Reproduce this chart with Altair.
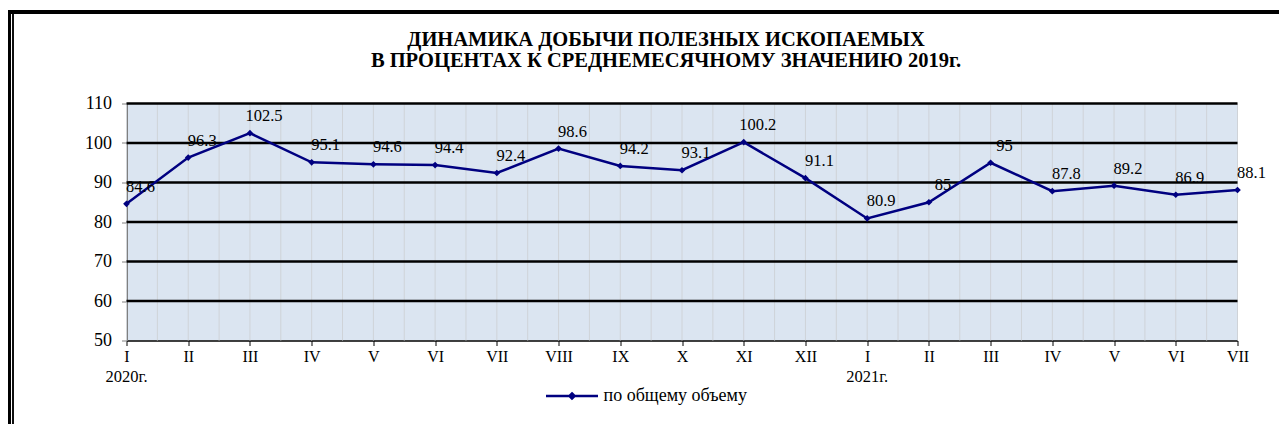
import json
import altair as alt
import pandas as pd

# ---- data ----
months = ["I", "II", "III", "IV", "V", "VI", "VII", "VIII", "IX", "X", "XI", "XII",
          "I", "II", "III", "IV", "V", "VI", "VII"]
values = [84.6, 96.3, 102.5, 95.1, 94.6, 94.4, 92.4, 98.6, 94.2, 93.1, 100.2, 91.1,
          80.9, 85, 95, 87.8, 89.2, 86.9, 88.1]
year_labels = ["2020г.", "2021г."]
year_index = [0, 12]
series_name = "по общему объему"
title_lines = ["ДИНАМИКА ДОБЫЧИ ПОЛЕЗНЫХ ИСКОПАЕМЫХ",
               "В ПРОЦЕНТАХ К СРЕДНЕМЕСЯЧНОМУ ЗНАЧЕНИЮ 2019г."]
y_ticks = [50, 60, 70, 80, 90, 100, 110]

FONT = "Liberation Serif"
NAVY = "#000080"
W, H = 1111, 237

idx = list(range(len(months)))
df = pd.DataFrame({"i": idx, "month": months, "value": values, "series": series_name,
                   "label": [f"{v:g}" for v in values]})
df_year = pd.DataFrame({"i": year_index, "year": year_labels})
df_v = pd.DataFrame({"h": [k * 0.5 for k in range(2 * (len(months) - 1) + 1)]})
df_h = pd.DataFrame({"y": y_ticks[1:]})
df_title = pd.DataFrame({"line": [0, 1], "text": title_lines})

xscale = alt.Scale(domain=[0, len(months) - 1], nice=False, zero=False)
yscale = alt.Scale(domain=[50, 110], nice=False, zero=False)
label_expr = json.dumps(months) + "[datum.value]"

x_axis = alt.Axis(values=idx, labelExpr=label_expr, title=None, grid=False,
                  domainColor="black", domainWidth=1.5, tickColor="black", tickSize=5,
                  labelFont=FONT, labelFontSize=16, labelColor="black", labelPadding=3,
                  labelFlush=False, labelOverlap=False)
y_axis = alt.Axis(values=y_ticks, title=None, grid=False, domainColor="#808080",
                  domainWidth=2, tickColor="#808080", tickSize=5, labelFont=FONT,
                  labelFontSize=18, labelColor="black", labelPadding=10,
                  labelOverlap=False, labelFlush=False)

base = alt.Chart(df)
X = alt.X("i:Q", scale=xscale, axis=x_axis)
Y = alt.Y("value:Q", scale=yscale, axis=y_axis)

vgrid = alt.Chart(df_v).mark_rule(color="#cfd3d8", strokeWidth=1).encode(
    x=alt.X("h:Q", scale=xscale, axis=x_axis))
hgrid = alt.Chart(df_h).mark_rule(color="black", strokeWidth=2.5).encode(
    y=alt.Y("y:Q", scale=yscale, axis=y_axis))

line = base.mark_line(strokeWidth=2.5).encode(
    x=X, y=Y,
    color=alt.Color("series:N", scale=alt.Scale(range=[NAVY]),
                    legend=alt.Legend(title=None, orient="none", legendX=418, legendY=265,
                                      symbolType="M-1,0H1M0,-0.1L0.1,0L0,0.1L-0.1,0Z",
                                      symbolSize=2704, symbolStrokeWidth=2.5,
                                      symbolFillColor=NAVY, symbolStrokeColor=NAVY,
                                      labelFont=FONT, labelFontSize=18, labelColor="black",
                                      padding=0, labelOffset=4)))
pts = base.mark_point(shape="diamond", filled=True, size=45, color=NAVY, opacity=1).encode(
    x=X, y=Y)
labels = base.mark_text(font=FONT, fontSize=16.5, dx=14, dy=-17, color="black",
                        baseline="middle").encode(x=X, y=Y, text="label:N")
years = alt.Chart(df_year).mark_text(font=FONT, fontSize=16.5, color="black",
                                     baseline="middle").encode(
    x=alt.X("i:Q", scale=xscale, axis=x_axis), y=alt.value(H + 36), text="year:N")

title1 = alt.Chart(df_title).transform_filter("datum.line == 0").mark_text(
    font=FONT, fontSize=20.5, fontWeight="bold", color="black", baseline="middle").encode(
    x=alt.value(539.5), y=alt.value(-63.5), text="text:N")
title2 = alt.Chart(df_title).transform_filter("datum.line == 1").mark_text(
    font=FONT, fontSize=20.5, fontWeight="bold", color="black", baseline="middle").encode(
    x=alt.value(539.5), y=alt.value(-43), text="text:N")

# frame of the chart (double line on the left, thick line on top)
frame_left = alt.Chart(df_year).mark_rule(color="black", strokeWidth=3).encode(
    x=alt.value(-117), y=alt.value(-93), y2=alt.value(H + 120))
frame_inner = alt.Chart(df_year).mark_rule(color="black", strokeWidth=1.5).encode(
    x=alt.value(-113.5), y=alt.value(-89.5), y2=alt.value(H + 120))
frame_top = alt.Chart(df_year).mark_rule(color="black", strokeWidth=4).encode(
    x=alt.value(-118.5), x2=alt.value(W + 200), y=alt.value(-91.5))

chart = alt.layer(vgrid, hgrid, line, pts, labels, years, title1, title2, frame_left,
                  frame_inner, frame_top).properties(
    width=W, height=H,
    autosize=alt.AutoSizeParams(type="none"),
    padding={"left": 118.5, "top": 95.5, "right": 41, "bottom": 83},
).configure_view(fill="#dbe5f1", stroke=None).configure_axis(
    labelFont=FONT, labelColor="black")

chart.save("out.html", embed_options={"renderer": "svg", "actions": False})
